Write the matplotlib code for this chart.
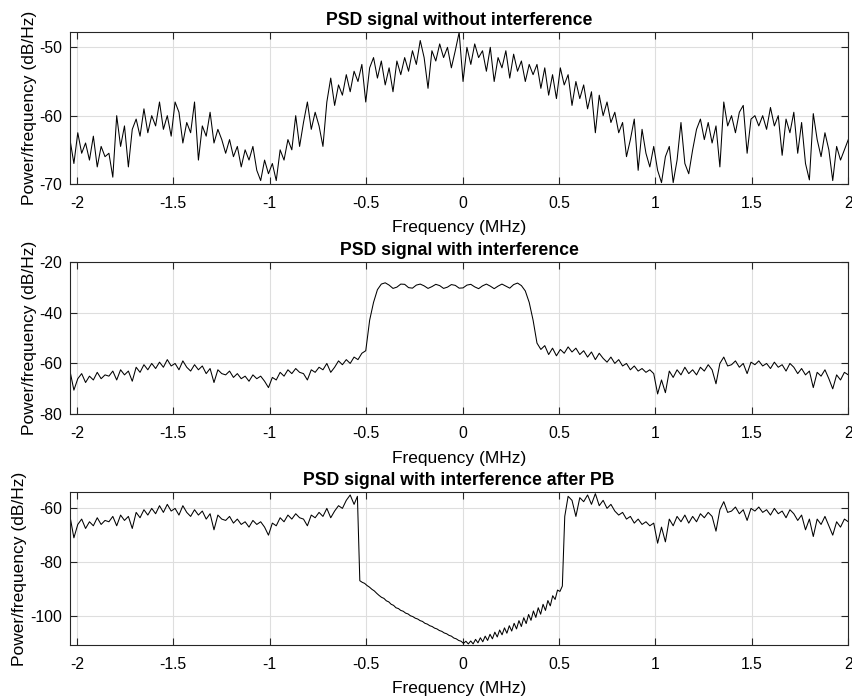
import numpy as np
import matplotlib
matplotlib.use("Agg")
import matplotlib.pyplot as plt
from matplotlib.ticker import FuncFormatter

plt.rcParams['font.family'] = ['Liberation Sans', 'DejaVu Sans']
plt.rcParams['axes.unicode_minus'] = False

# ---------------- data ----------------
freq = np.linspace(-2.035, 2.0, 201)          # MHz, common grid
notch_freq = np.linspace(-0.545, 0.53, 87)    # MHz, finer grid inside the notch

psd_clean = [
    -63.5, -67.0, -62.5, -65.5, -64.0, -66.5, -63.0, -67.5, -64.5, -66.0,
    -65.5, -69.0, -60.0, -64.5, -61.5, -67.5, -62.0, -60.5, -63.0, -59.0,
    -62.5, -60.0, -61.5, -58.0, -62.0, -60.0, -63.0, -58.0, -59.5, -64.0,
    -61.0, -62.5, -58.0, -66.5, -61.5, -63.0, -59.5, -64.0, -62.0, -63.5,
    -65.5, -63.5, -66.0, -64.5, -67.5, -65.0, -66.5, -64.5, -68.0, -69.5,
    -66.5, -68.5, -67.0, -69.5, -65.0, -66.5, -63.5, -65.0, -60.0, -64.5,
    -61.0, -58.0, -62.0, -59.5, -61.5, -64.5, -58.0, -54.5, -58.5, -55.5,
    -57.0, -54.0, -56.5, -53.5, -55.0, -52.5, -58.0, -53.0, -51.5, -54.5,
    -52.0, -55.5, -53.0, -56.5, -52.0, -54.0, -51.5, -53.5, -50.5, -52.5,
    -49.0, -51.5, -56.0, -50.5, -52.0, -49.5, -51.5, -50.0, -53.0, -50.5,
    -47.8, -55.0, -50.0, -52.5, -49.5, -51.5, -50.5, -53.5, -50.0, -55.0,
    -51.5, -53.0, -50.5, -54.5, -51.0, -53.5, -52.0, -55.0, -52.5, -54.0,
    -52.5, -56.0, -53.0, -57.0, -54.0, -57.5, -53.0, -55.5, -54.0, -58.5,
    -55.0, -57.5, -55.5, -59.0, -56.5, -62.5, -57.0, -60.0, -58.0, -61.0,
    -59.5, -62.5, -61.0, -66.0, -63.5, -60.5, -68.0, -62.0, -65.5, -67.5,
    -64.5, -68.0, -69.8, -66.0, -64.5, -69.8, -66.5, -61.0, -67.0, -68.5,
    -65.0, -62.0, -60.5, -63.5, -61.0, -64.0, -61.5, -67.5, -58.0, -61.5,
    -60.0, -62.5, -59.5, -58.5, -65.5, -60.5, -60.0, -61.5, -60.0, -62.0,
    -58.8, -61.5, -60.0, -65.8, -60.5, -62.5, -59.5, -65.5, -61.0, -67.0,
    -69.4, -59.7, -63.5, -66.0, -62.5, -65.0, -69.5, -64.5, -66.5, -65.0, -63.5,
]

psd_interf = [
    -63.0, -70.5, -66.0, -64.0, -67.5, -65.0, -66.5, -63.5, -66.0, -64.5,
    -65.0, -63.0, -66.5, -62.5, -64.5, -63.0, -67.0, -61.5, -63.5, -60.5,
    -62.5, -60.0, -62.0, -59.5, -61.5, -58.5, -61.0, -60.0, -62.5, -59.0,
    -61.5, -63.0, -60.5, -62.5, -61.0, -64.0, -62.0, -67.5, -62.5, -64.0,
    -64.5, -63.0, -65.5, -64.0, -66.0, -65.0, -67.0, -64.5, -66.0, -65.0,
    -67.0, -69.5, -65.5, -66.5, -63.5, -65.0, -62.5, -64.0, -62.0, -63.5,
    -64.0, -66.5, -62.5, -63.5, -61.5, -62.5, -60.0, -63.5, -61.5, -59.0,
    -60.5, -58.5, -60.0, -57.5, -58.5, -56.0, -55.0, -43.0, -36.0, -31.0,
    -28.8, -28.3, -29.2, -30.5, -30.0, -28.8, -28.9, -30.2, -30.4, -29.2,
    -28.8, -29.5, -30.5, -29.8, -28.9, -29.4, -30.5, -30.0, -29.0, -29.3,
    -30.4, -30.3, -29.2, -28.9, -29.9, -30.6, -29.5, -28.8, -29.6, -30.6,
    -29.6, -28.8, -29.6, -30.4, -29.0, -28.4, -29.4, -31.5, -36.0, -43.0,
    -52.0, -54.5, -53.0, -56.5, -54.0, -57.0, -54.5, -56.0, -53.5, -55.5,
    -54.0, -56.5, -55.0, -57.5, -55.5, -58.5, -56.0, -58.0, -59.5, -57.5,
    -60.0, -58.5, -61.0, -60.0, -62.5, -61.0, -63.0, -62.0, -63.5, -62.5,
    -64.0, -72.0, -66.5, -71.5, -63.0, -65.5, -62.5, -64.5, -61.5, -64.0,
    -62.5, -64.5, -61.5, -63.0, -60.5, -62.5, -68.0, -60.0, -57.5, -61.0,
    -60.5, -59.0, -61.5, -60.0, -64.0, -59.5, -60.5, -59.0, -61.0, -60.0,
    -62.0, -59.5, -61.5, -60.5, -63.0, -60.0, -61.5, -64.0, -62.0, -64.5,
    -63.0, -69.5, -63.5, -65.0, -62.5, -66.0, -70.0, -64.5, -66.5, -63.5, -64.5,
]

# after band-stop ("PB"): left part (grid points 0..73), notch, right part (128..200)
psd_pb_left = [
    -63.0, -71.0, -66.0, -64.0, -67.5, -65.0, -66.5, -63.5, -66.0, -64.5,
    -65.0, -63.0, -66.5, -62.5, -64.5, -63.0, -67.5, -61.5, -63.5, -60.5,
    -62.5, -60.0, -62.0, -59.0, -61.5, -58.5, -61.0, -60.0, -62.5, -59.0,
    -61.5, -63.0, -60.5, -62.5, -61.0, -64.0, -62.0, -68.0, -62.5, -64.0,
    -64.5, -63.0, -65.5, -64.0, -66.0, -65.0, -67.0, -64.5, -66.0, -65.0,
    -67.0, -70.0, -65.5, -66.5, -63.5, -65.0, -62.5, -64.0, -62.0, -63.5,
    -64.0, -66.5, -62.5, -63.5, -61.5, -63.0, -60.0, -63.5, -61.0, -59.0,
    -60.0, -57.0, -55.0, -58.5,
]

psd_pb_notch = [
    -55.5, -87.0, -87.6, -88.0, -88.8, -89.4, -90.2, -90.8, -91.7, -92.5,
    -93.2, -93.6, -94.5, -94.9, -95.8, -96.2, -97.1, -97.4, -98.1, -98.4,
    -99.1, -99.4, -100.1, -100.4, -101.0, -101.3, -101.9, -102.2, -102.9, -103.2,
    -103.8, -104.1, -104.7, -105.0, -105.6, -105.9, -106.5, -106.8, -107.4, -107.7,
    -108.4, -108.7, -109.3, -109.6, -110.4, -109.6, -110.6, -109.5, -110.6, -108.9,
    -110.2, -108.3, -109.8, -107.7, -109.3, -107.0, -108.7, -106.2, -108.0, -105.4,
    -107.2, -104.6, -106.6, -103.8, -105.8, -102.9, -105.0, -101.9, -104.1, -100.8,
    -103.0, -99.6, -101.8, -98.3, -100.7, -97.1, -99.5, -95.8, -98.1, -94.4,
    -96.4, -92.6, -94.0, -90.5, -91.0, -89.0, -63.0,
]

psd_pb_right = [
    -55.5, -57.0,
    -63.0, -56.0, -57.5, -55.0, -58.5, -54.5, -59.0, -57.0, -60.0, -58.5,
    -61.0, -62.5, -61.5, -64.0, -63.0, -65.5, -64.0, -66.0, -65.0, -66.5,
    -65.5, -73.0, -67.0, -72.5, -64.0, -66.5, -63.0, -65.0, -62.5, -65.5,
    -63.0, -65.0, -62.0, -63.5, -61.5, -63.0, -68.5, -60.5, -57.5, -61.5,
    -61.0, -59.5, -62.0, -60.5, -64.5, -60.0, -61.0, -59.5, -61.5, -60.5,
    -62.5, -60.0, -62.0, -61.0, -63.5, -60.5, -62.0, -64.5, -62.5, -68.0,
    -64.0, -70.5, -64.0, -66.0, -63.0, -66.5, -70.0, -65.0, -67.0, -64.0, -65.0,
]

titles = ["PSD signal without interference",
          "PSD signal with interference",
          "PSD signal with interference after PB"]
xticks = [-2, -1.5, -1, -0.5, 0, 0.5, 1, 1.5, 2]
yticks_list = [[-70, -60, -50], [-80, -60, -40, -20], [-100, -80, -60]]
ylims = [(-70, -47.8), (-80, -20), (-111, -54)]

# ---------------- figure ----------------
W, H = 853, 697
fig = plt.figure(figsize=(W / 100, H / 100), dpi=100)
left = 70 / W
width = (848.3 - 70) / W
boxes = [(32.3, 184.0), (261.7, 414.3), (492.3, 645.0)]
ylabel_right_px = [37, 37, 27]

pb_freq = np.concatenate([freq[:74], notch_freq, freq[128:]])
pb_vals = list(psd_pb_left) + list(psd_pb_notch) + list(psd_pb_right)
series = [(freq, psd_clean), (freq, psd_interf), (pb_freq, pb_vals)]

fmt = FuncFormatter(lambda v, p: "%g" % v)

for i, (top, bot) in enumerate(boxes):
    ax = fig.add_axes([left, 1 - bot / H, width, (bot - top) / H])
    x, y = series[i]
    ax.plot(x, y, color='black', linewidth=0.75)
    ax.set_xlim(-2.035, 2.0)
    ax.set_ylim(*ylims[i])
    ax.set_xticks(xticks)
    ax.set_yticks(yticks_list[i])
    ax.xaxis.set_major_formatter(fmt)
    ax.yaxis.set_major_formatter(fmt)
    ax.grid(True, color='#dedede', linewidth=0.8)
    ax.set_axisbelow(True)
    ax.tick_params(direction='in', length=5, width=0.8, top=True, right=True,
                   labelsize=11.3, color='#262626')
    ax.tick_params(axis='x', pad=8.5)
    ax.tick_params(axis='y', pad=5.5)
    for s in ax.spines.values():
        s.set_color('#262626')
        s.set_linewidth(0.8)
    ax.set_title(titles[i], fontsize=12.7, fontweight='bold', pad=5)
    ax.set_xlabel("Frequency (MHz)", fontsize=12.5, labelpad=6.8)
    ax.set_ylabel("Power/frequency (dB/Hz)", fontsize=12.5)
    ax.yaxis.set_label_coords((ylabel_right_px[i] - 70) / (848.3 - 70), 0.5)

fig.savefig("out.png", dpi=100)
